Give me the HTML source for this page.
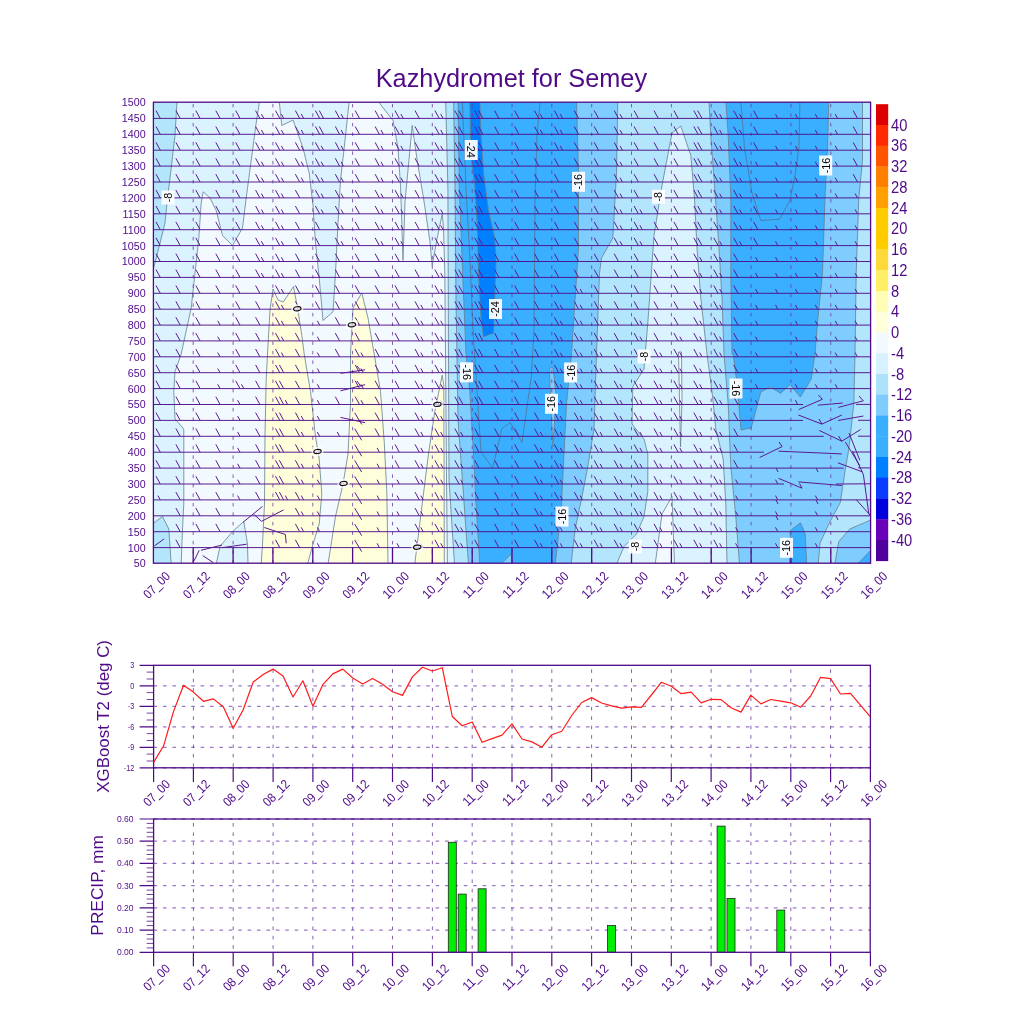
<!DOCTYPE html><html><head><meta charset="utf-8"><style>html,body{margin:0;padding:0;background:#fff;}svg{display:block;will-change:transform}text{font-family:"Liberation Sans",sans-serif;fill:#4F0A87}</style></head><body>
<svg width="1024" height="1024" viewBox="0 0 1024 1024">
<rect width="1024" height="1024" fill="#fff"/>
<text x="511.4" y="87.1" font-size="25.3" text-anchor="middle">Kazhydromet for Semey</text>
<defs><clipPath id="cp"><rect x="153.4" y="102.2" width="717.2" height="461"/></clipPath></defs>
<g clip-path="url(#cp)">
<rect x="0" y="0" width="1024" height="1024" fill="#DBF2FF"/>
<path d="M181.2 564.2L182.5 529L183.8 504L183.8 429L175 419L173.8 391.5L175 371.5L181.2 354L191.2 308L195 273L198.8 238L201.2 203L203.2 191.8L210 198L216.2 210.5L222.5 235.5L232.5 245.5L242.5 228L246.2 198L251.2 160.5L256.2 123L259.5 101.2L279.2 101.2L281.8 125.5L293 120L296.8 130.5L303 148L309.2 173L313 205.5L315.5 243L319.2 278L323 320.5L333 311.8L335.5 273L338 223L340.5 180.5L344.2 148L349.2 101.2L378 101.2L393 120.5L398 148L400.5 185.5L401.8 223L403 260.5L405 202L412.2 125.5L417.2 160.5L423.5 198L429.8 240.5L432.2 265.5L437.2 238L442.2 214.2L443.5 228L444.8 273L445.5 354L446.5 480L447.4 564.2Z" fill="#F3FAFF" stroke="#64808F" stroke-width="0.8"/>
<path d="M655.2 564.2L662 514L672 496.5L674.5 564.2Z" fill="#F3FAFF" stroke="#64808F" stroke-width="0.8"/>
<path d="M678.5 352L681.5 352L682 400L680.5 447L679.5 400Z" fill="#F3FAFF" stroke="#64808F" stroke-width="0.8"/>
<path d="M216.2 564.2L220 546.5L232.5 531.5L243.8 521.5L247.5 544L248 564.2Z" fill="#DBF2FF" stroke="#64808F" stroke-width="0.8"/>
<path d="M261.2 564.2L262.5 544L264.5 504L265 436.5L266.2 379L267.5 354L270 310L273 289L278 300L283.4 302L293.5 286.5L298 310.5L301.8 335.5L304.2 354L310.5 391.5L315.5 436.5L319.2 459L321.8 494L319.2 524L313 544L307.5 564.2Z" fill="#FFFEDB" stroke="#64808F" stroke-width="0.8"/>
<path d="M328 564.2L335.5 516.5L343 484L348 454L350.5 404L350.5 354L353 308L361.8 293L368 318L374.2 354L380.5 391.5L384.2 441.5L386.8 491.5L388 564.2Z" fill="#FFFEDB" stroke="#64808F" stroke-width="0.8"/>
<path d="M414.8 564.2L416 554L422.2 504L428.5 454L434.8 411.5L442.2 375.2L443.8 385L444.1 480L444.3 564.2Z" fill="#FFFEDB" stroke="#64808F" stroke-width="0.8"/>
<path d="M152.4 101.2L177 101.2L175 135.5L171.2 168L167.5 198L165 223L160 243L155 263L152.4 272Z" fill="#B3E5FC" stroke="#64808F" stroke-width="0.8"/>
<path d="M152.4 524L162.5 516.5L168.8 529L171.2 564.2L152.4 564.2Z" fill="#B3E5FC" stroke="#64808F" stroke-width="0.8"/>
<path d="M445.7 101.2L871.6 101.2L871.6 564.2L727 564.2L725.8 504L723.2 459L715.8 429L712 391.5L707 354L700.8 298L697 248L694.5 198L690.8 155.5L680.8 126L672 133L662 185.5L654 235.5L647.8 323L645.2 354L644 369L632.8 386.5L632 424L644 439L647.8 454L647.8 491.5L644 516.5L636.5 534L624 546.5L616.5 564.2L454.5 564.2L449 480L448.5 354L447.9 188Z" fill="#B3E5FC" stroke="#64808F" stroke-width="0.8"/>
<path d="M453.6 101.2L617.8 101.2L616.5 173L612.8 238L601.5 258L599.5 273L596.5 354L594 429L587.8 466.5L581.5 499L575.2 529L571 564.2L468.5 564.2L462.4 480L458 420L456 300L455 188Z" fill="#7FCDFF" stroke="#64808F" stroke-width="0.8"/>
<path d="M709 101.2L862.5 101.2L862.5 160.5L858.8 198L856.2 273L855 354L853.8 404L848.8 449L845 471.2L840.3 502.5L829.4 522.8L820 543.1L818.2 564.2L739.5 564.2L735.8 516.5L730.8 466.5L728.2 404L724 354L722 298L718.2 235.5L714.5 185.5L710.8 135.5Z" fill="#7FCDFF" stroke="#64808F" stroke-width="0.8"/>
<path d="M871.6 519.7L849.7 529L838.8 541.6L834.8 564.2L871.6 564.2Z" fill="#7FCDFF" stroke="#64808F" stroke-width="0.8"/>
<path d="M458 101.2L576.5 101.2L578.5 173L578.5 248L575.2 298L571.5 354L566.5 404L564 454L561.5 504L557.8 541.5L555.2 564.2L479.8 564.2L476 504L473.5 454L469.8 391.5L466 354L462.5 270L459.3 188Z" fill="#3AAEFF" stroke="#64808F" stroke-width="0.8"/>
<path d="M725.8 101.2L828.8 101.2L827.5 148L825 198L822.5 273L817.5 323L815 354L811.2 379L800.3 397.1L790 384.6L780.5 393.4L770.3 386.8L760.8 392L751.2 427.9L741 430L737 384L733.2 354L732 354L730.8 273L730.8 198L728.2 135.5Z" fill="#3AAEFF" stroke="#64808F" stroke-width="0.8"/>
<path d="M789.5 564.2L790.3 530.6L800.5 522.8L805.2 533.8L806.7 564.2Z" fill="#3AAEFF" stroke="#64808F" stroke-width="0.8"/>
<path d="M871.6 549.4L857.5 564.2L871.6 564.2Z" fill="#3AAEFF" stroke="#64808F" stroke-width="0.8"/>
<path d="M549.5 368L553 368L556 395L553 447L550.5 400Z" fill="#7FCDFF" stroke="#64808F" stroke-width="0.8"/>
<path d="M501 564.2L511 554L512.2 564.2Z" fill="#7FCDFF" stroke="#64808F" stroke-width="0.8"/>
<path d="M469.8 101.2L479.8 101.2L481 135.5L483.5 173L488.5 210.5L494.8 238L496 260.5L494.8 298L493.5 333L483.5 336.8L481 318L478.5 273L477.2 223L474.8 185.5L472.2 165.5L470.5 135.5Z" fill="#0080FF" stroke="#64808F" stroke-width="0.8"/>
<path d="M462.4 101.2L466 188L470 260L473 330L481 452L492.7 468L502 428.4L510.3 422.5L522 442.4L531.3 376.8L534 330L535 200L537 135L540.2 101.2" fill="none" stroke="#4F7596" stroke-width="0.8"/>
<path d="M740.8 101.2L744.5 148L752 193L760.8 220.5L779.5 219.2L790 200.5L795 175.5L798.8 148L800 101.2" fill="none" stroke="#4F7596" stroke-width="0.8"/>
<path d="M193.2 102.2V563.2M233.1 102.2V563.2M272.9 102.2V563.2M312.8 102.2V563.2M352.6 102.2V563.2M392.5 102.2V563.2M432.3 102.2V563.2M472.2 102.2V563.2M512 102.2V563.2M551.8 102.2V563.2M591.7 102.2V563.2M631.5 102.2V563.2M671.4 102.2V563.2M711.2 102.2V563.2M751.1 102.2V563.2M790.9 102.2V563.2M830.8 102.2V563.2" stroke="#6A3A9E" stroke-width="1" stroke-dasharray="3.5 6" stroke-dashoffset="7.8" fill="none" opacity="0.8"/>
<path d="M193.2 547.2V563.2M233.1 547.2V563.2M272.9 547.2V563.2M312.8 547.2V563.2M352.6 547.2V563.2M392.5 547.2V563.2M432.3 547.2V563.2M472.2 547.2V563.2M512 547.2V563.2M551.8 547.2V563.2M591.7 547.2V563.2M631.5 547.2V563.2M671.4 547.2V563.2M711.2 547.2V563.2M751.1 547.2V563.2M790.9 547.2V563.2M830.8 547.2V563.2" stroke="#4F0A87" stroke-width="1.3" fill="none"/>
<path d="M153.4 547.6H870.6M153.4 531.7H870.6M153.4 515.8H870.6M153.4 499.9H870.6M153.4 484H784M153.4 468.1H843.6M153.4 452.2H764M153.4 436.3H823.7M153.4 420.4H803M153.4 404.5H803M153.4 388.6H870.6M153.4 372.7H870.6M153.4 356.8H870.6M153.4 340.9H870.6M153.4 325.1H870.6M153.4 309.2H870.6M153.4 293.3H870.6M153.4 277.4H870.6M153.4 261.5H870.6M153.4 245.6H870.6M153.4 229.7H870.6M153.4 213.8H870.6M153.4 197.9H870.6M153.4 182H870.6M153.4 166.1H870.6M153.4 150.2H870.6M153.4 134.3H870.6M153.4 118.4H870.6" stroke="#4E0C86" stroke-width="1" fill="none" opacity="0.93"/><path d="M175.9 539.8L180.2 547.6M275.5 539.8L279.8 547.6M295.4 539.8L299.7 547.6M317.3 543.3L319.7 547.6M354.7 540L361.7 551.6M377.1 543.3L379.4 547.6M397 543.3L399.3 547.6M415 539.8L419.3 547.6M420.8 543.3L423.2 547.6M434.9 539.8L439.2 547.6M440.7 543.3L443.1 547.6M454.8 539.8L459.1 547.6M460.6 543.3L463 547.6M474.7 539.8L479 547.6M494.6 539.8L498.9 547.6M514.6 539.8L518.9 547.6M534.5 539.8L538.8 547.6M540.3 543.3L542.7 547.6M554.4 539.8L558.7 547.6M560.2 543.3L562.6 547.6M574.3 539.8L578.6 547.6M580.2 543.3L582.5 547.6M594.2 539.8L598.5 547.6M600.1 543.3L602.4 547.6M614.2 539.8L618.5 547.6M620 543.3L622.4 547.6M634.1 539.8L638.4 547.6M639.9 543.3L642.3 547.6M654 539.8L658.3 547.6M659.8 543.3L662.2 547.6M673.9 539.8L678.2 547.6M679.8 543.3L682.1 547.6M693.8 539.8L698.1 547.6M699.7 543.3L702 547.6M713.8 539.8L718.1 547.6M719.6 543.3L722 547.6M735.6 543.3L738 547.6M775.5 543.3L777.8 547.6M815.3 543.3L817.7 547.6M175.9 523.9L180.2 531.7M195.8 523.9L200.1 531.7M215.8 523.9L220.1 531.7M295.4 523.9L299.7 531.7M301.3 527.4L303.6 531.7M317.3 527.4L319.7 531.7M354.7 524.1L361.7 535.7M377.1 527.4L379.4 531.7M397 527.4L399.3 531.7M415 523.9L419.3 531.7M420.8 527.4L423.2 531.7M434.9 523.9L439.2 531.7M440.7 527.4L443.1 531.7M454.8 523.9L459.1 531.7M460.6 527.4L463 531.7M474.7 523.9L479 531.7M494.6 523.9L498.9 531.7M514.6 523.9L518.9 531.7M534.5 523.9L538.8 531.7M540.3 527.4L542.7 531.7M554.4 523.9L558.7 531.7M560.2 527.4L562.6 531.7M574.3 523.9L578.6 531.7M580.2 527.4L582.5 531.7M594.2 523.9L598.5 531.7M600.1 527.4L602.4 531.7M614.2 523.9L618.5 531.7M620 527.4L622.4 531.7M634.1 523.9L638.4 531.7M639.9 527.4L642.3 531.7M654 523.9L658.3 531.7M659.8 527.4L662.2 531.7M673.9 523.9L678.2 531.7M679.8 527.4L682.1 531.7M693.8 523.9L698.1 531.7M699.7 527.4L702 531.7M713.8 523.9L718.1 531.7M719.6 527.4L722 531.7M735.6 527.4L738 531.7M775.5 527.4L777.8 531.7M815.3 527.4L817.7 531.7M175.9 508L180.2 515.8M195.8 508L200.1 515.8M215.8 508L220.1 515.8M295.4 508L299.7 515.8M301.3 511.5L303.6 515.8M317.3 511.5L319.7 515.8M354.7 508.2L361.7 519.8M377.1 511.5L379.4 515.8M397 511.5L399.3 515.8M415 508L419.3 515.8M420.8 511.5L423.2 515.8M434.9 508L439.2 515.8M440.7 511.5L443.1 515.8M454.8 508L459.1 515.8M460.6 511.5L463 515.8M474.7 508L479 515.8M494.6 508L498.9 515.8M514.6 508L518.9 515.8M534.5 508L538.8 515.8M540.3 511.5L542.7 515.8M554.4 508L558.7 515.8M560.2 511.5L562.6 515.8M574.3 508L578.6 515.8M580.2 511.5L582.5 515.8M594.2 508L598.5 515.8M600.1 511.5L602.4 515.8M614.2 508L618.5 515.8M620 511.5L622.4 515.8M634.1 508L638.4 515.8M639.9 511.5L642.3 515.8M654 508L658.3 515.8M659.8 511.5L662.2 515.8M673.9 508L678.2 515.8M679.8 511.5L682.1 515.8M693.8 508L698.1 515.8M699.7 511.5L702 515.8M713.8 508L718.1 515.8M719.6 511.5L722 515.8M735.6 511.5L738 515.8M775.5 511.5L777.8 515.8M815.3 511.5L817.7 515.8M157.9 495.6L160.3 499.9M175.9 492.1L180.2 499.9M195.8 492.1L200.1 499.9M215.8 492.1L220.1 499.9M237.6 495.6L240 499.9M255.6 492.1L259.9 499.9M275.5 492.1L279.8 499.9M279.4 492.1L283.7 499.9M285.3 495.6L287.6 499.9M295.4 492.1L299.7 499.9M301.3 495.6L303.6 499.9M317.3 495.6L319.7 499.9M354.7 492.3L361.7 503.9M377.1 495.6L379.4 499.9M397 495.6L399.3 499.9M415 492.1L419.3 499.9M420.8 495.6L423.2 499.9M434.9 492.1L439.2 499.9M440.7 495.6L443.1 499.9M454.8 492.1L459.1 499.9M460.6 495.6L463 499.9M474.7 492.1L479 499.9M494.6 492.1L498.9 499.9M514.6 492.1L518.9 499.9M534.5 492.1L538.8 499.9M540.3 495.6L542.7 499.9M554.4 492.1L558.7 499.9M560.2 495.6L562.6 499.9M574.3 492.1L578.6 499.9M580.2 495.6L582.5 499.9M594.2 492.1L598.5 499.9M600.1 495.6L602.4 499.9M614.2 492.1L618.5 499.9M620 495.6L622.4 499.9M634.1 492.1L638.4 499.9M639.9 495.6L642.3 499.9M654 492.1L658.3 499.9M659.8 495.6L662.2 499.9M673.9 492.1L678.2 499.9M679.8 495.6L682.1 499.9M693.8 492.1L698.1 499.9M699.7 495.6L702 499.9M713.8 492.1L718.1 499.9M719.6 495.6L722 499.9M735.6 495.6L738 499.9M775.5 495.6L777.8 499.9M815.3 495.6L817.7 499.9M156 476.2L160.3 484M175.9 476.2L180.2 484M195.8 476.2L200.1 484M215.8 476.2L220.1 484M237.6 479.7L240 484M255.6 476.2L259.9 484M275.5 476.2L279.8 484M279.4 476.2L283.7 484M295.4 476.2L299.7 484M301.3 479.7L303.6 484M317.3 479.7L319.7 484M354.7 476.4L361.7 488M377.1 479.7L379.4 484M397 479.7L399.3 484M415 476.2L419.3 484M420.8 479.7L423.2 484M434.9 476.2L439.2 484M440.7 479.7L443.1 484M454.8 476.2L459.1 484M460.6 479.7L463 484M474.7 476.2L479 484M494.6 476.2L498.9 484M514.6 476.2L518.9 484M534.5 476.2L538.8 484M540.3 479.7L542.7 484M554.4 476.2L558.7 484M560.2 479.7L562.6 484M574.3 476.2L578.6 484M580.2 479.7L582.5 484M594.2 476.2L598.5 484M600.1 479.7L602.4 484M614.2 476.2L618.5 484M620 479.7L622.4 484M634.1 476.2L638.4 484M639.9 479.7L642.3 484M654 476.2L658.3 484M659.8 479.7L662.2 484M673.9 476.2L678.2 484M679.8 479.7L682.1 484M693.8 476.2L698.1 484M699.7 479.7L702 484M713.8 476.2L718.1 484M719.6 479.7L722 484M735.6 479.7L738 484M775.5 479.7L777.8 484M156 460.3L160.3 468.1M175.9 460.3L180.2 468.1M195.8 460.3L200.1 468.1M215.8 460.3L220.1 468.1M237.6 463.8L240 468.1M255.6 460.3L259.9 468.1M275.5 460.3L279.8 468.1M279.4 460.3L283.7 468.1M295.4 460.3L299.7 468.1M301.3 463.8L303.6 468.1M317.3 463.8L319.7 468.1M354.7 460.5L361.7 472.1M377.1 463.8L379.4 468.1M395 460.3L399.3 468.1M415 460.3L419.3 468.1M420.8 463.8L423.2 468.1M434.9 460.3L439.2 468.1M440.7 463.8L443.1 468.1M454.8 460.3L459.1 468.1M460.6 463.8L463 468.1M474.7 460.3L479 468.1M494.6 460.3L498.9 468.1M514.6 460.3L518.9 468.1M534.5 460.3L538.8 468.1M540.3 463.8L542.7 468.1M554.4 460.3L558.7 468.1M560.2 463.8L562.6 468.1M574.3 460.3L578.6 468.1M580.2 463.8L582.5 468.1M594.2 460.3L598.5 468.1M600.1 463.8L602.4 468.1M614.2 460.3L618.5 468.1M620 463.8L622.4 468.1M634.1 460.3L638.4 468.1M639.9 463.8L642.3 468.1M654 460.3L658.3 468.1M659.8 463.8L662.2 468.1M673.9 460.3L678.2 468.1M679.8 463.8L682.1 468.1M693.8 460.3L698.1 468.1M699.7 463.8L702 468.1M713.8 460.3L718.1 468.1M719.6 463.8L722 468.1M733.7 460.3L738 468.1M156 444.4L160.3 452.2M175.9 444.4L180.2 452.2M195.8 444.4L200.1 452.2M215.8 444.4L220.1 452.2M237.6 447.9L240 452.2M255.6 444.4L259.9 452.2M275.5 444.4L279.8 452.2M279.4 444.4L283.7 452.2M295.4 444.4L299.7 452.2M301.3 447.9L303.6 452.2M317.3 447.9L319.7 452.2M354.7 444.6L361.7 456.2M377.1 447.9L379.4 452.2M395 444.4L399.3 452.2M415 444.4L419.3 452.2M420.8 447.9L423.2 452.2M434.9 444.4L439.2 452.2M440.7 447.9L443.1 452.2M454.8 444.4L459.1 452.2M460.6 447.9L463 452.2M474.7 444.4L479 452.2M494.6 444.4L498.9 452.2M514.6 444.4L518.9 452.2M534.5 444.4L538.8 452.2M540.3 447.9L542.7 452.2M554.4 444.4L558.7 452.2M560.2 447.9L562.6 452.2M574.3 444.4L578.6 452.2M580.2 447.9L582.5 452.2M594.2 444.4L598.5 452.2M600.1 447.9L602.4 452.2M614.2 444.4L618.5 452.2M620 447.9L622.4 452.2M634.1 444.4L638.4 452.2M639.9 447.9L642.3 452.2M654 444.4L658.3 452.2M659.8 447.9L662.2 452.2M673.9 444.4L678.2 452.2M679.8 447.9L682.1 452.2M693.8 444.4L698.1 452.2M699.7 447.9L702 452.2M713.8 444.4L718.1 452.2M719.6 447.9L722 452.2M733.7 444.4L738 452.2M156 428.5L160.3 436.3M175.9 428.5L180.2 436.3M195.8 428.5L200.1 436.3M215.8 428.5L220.1 436.3M237.6 432L240 436.3M255.6 428.5L259.9 436.3M275.5 428.5L279.8 436.3M279.4 428.5L283.7 436.3M295.4 428.5L299.7 436.3M301.3 432L303.6 436.3M317.3 432L319.7 436.3M337.2 432L339.6 436.3M354.7 428.7L361.7 440.3M375.1 428.5L379.4 436.3M395 428.5L399.3 436.3M415 428.5L419.3 436.3M420.8 432L423.2 436.3M434.9 428.5L439.2 436.3M440.7 432L443.1 436.3M454.8 428.5L459.1 436.3M460.6 432L463 436.3M474.7 428.5L479 436.3M494.6 428.5L498.9 436.3M514.6 428.5L518.9 436.3M534.5 428.5L538.8 436.3M540.3 432L542.7 436.3M554.4 428.5L558.7 436.3M560.2 432L562.6 436.3M574.3 428.5L578.6 436.3M580.2 432L582.5 436.3M594.2 428.5L598.5 436.3M600.1 432L602.4 436.3M614.2 428.5L618.5 436.3M620 432L622.4 436.3M634.1 428.5L638.4 436.3M639.9 432L642.3 436.3M654 428.5L658.3 436.3M659.8 432L662.2 436.3M673.9 428.5L678.2 436.3M679.8 432L682.1 436.3M693.8 428.5L698.1 436.3M699.7 432L702 436.3M713.8 428.5L718.1 436.3M719.6 432L722 436.3M733.7 428.5L738 436.3M156 412.6L160.3 420.4M175.9 412.6L180.2 420.4M195.8 412.6L200.1 420.4M215.8 412.6L220.1 420.4M237.6 416.1L240 420.4M255.6 412.6L259.9 420.4M275.5 412.6L279.8 420.4M279.4 412.6L283.7 420.4M295.4 412.6L299.7 420.4M301.3 416.1L303.6 420.4M317.3 416.1L319.7 420.4M354.7 412.8L361.7 424.4M375.1 412.6L379.4 420.4M395 412.6L399.3 420.4M415 412.6L419.3 420.4M420.8 416.1L423.2 420.4M434.9 412.6L439.2 420.4M440.7 416.1L443.1 420.4M454.8 412.6L459.1 420.4M460.6 416.1L463 420.4M474.7 412.6L479 420.4M494.6 412.6L498.9 420.4M514.6 412.6L518.9 420.4M534.5 412.6L538.8 420.4M554.4 412.6L558.7 420.4M560.2 416.1L562.6 420.4M574.3 412.6L578.6 420.4M580.2 416.1L582.5 420.4M594.2 412.6L598.5 420.4M600.1 416.1L602.4 420.4M614.2 412.6L618.5 420.4M620 416.1L622.4 420.4M634.1 412.6L638.4 420.4M639.9 416.1L642.3 420.4M654 412.6L658.3 420.4M659.8 416.1L662.2 420.4M673.9 412.6L678.2 420.4M679.8 416.1L682.1 420.4M693.8 412.6L698.1 420.4M699.7 416.1L702 420.4M713.8 412.6L718.1 420.4M719.6 416.1L722 420.4M733.7 412.6L738 420.4M156 396.7L160.3 404.5M175.9 396.7L180.2 404.5M195.8 396.7L200.1 404.5M215.8 396.7L220.1 404.5M237.6 400.2L240 404.5M255.6 396.7L259.9 404.5M275.5 396.7L279.8 404.5M279.4 396.7L283.7 404.5M285.3 400.2L287.6 404.5M295.4 396.7L299.7 404.5M317.3 400.2L319.7 404.5M335.3 396.7L339.6 404.5M355.2 396.7L359.5 404.5M361 400.2L363.4 404.5M375.1 396.7L379.4 404.5M395 396.7L399.3 404.5M415 396.7L419.3 404.5M420.8 400.2L423.2 404.5M434.9 396.7L439.2 404.5M440.7 400.2L443.1 404.5M454.8 396.7L459.1 404.5M458.7 396.7L463 404.5M474.7 396.7L479 404.5M478.6 396.7L482.9 404.5M494.6 396.7L498.9 404.5M514.6 396.7L518.9 404.5M534.5 396.7L538.8 404.5M554.4 396.7L558.7 404.5M560.2 400.2L562.6 404.5M574.3 396.7L578.6 404.5M580.2 400.2L582.5 404.5M594.2 396.7L598.5 404.5M600.1 400.2L602.4 404.5M614.2 396.7L618.5 404.5M620 400.2L622.4 404.5M634.1 396.7L638.4 404.5M639.9 400.2L642.3 404.5M654 396.7L658.3 404.5M659.8 400.2L662.2 404.5M673.9 396.7L678.2 404.5M679.8 400.2L682.1 404.5M693.8 396.7L698.1 404.5M699.7 400.2L702 404.5M713.8 396.7L718.1 404.5M719.6 400.2L722 404.5M733.7 396.7L738 404.5M755.5 400.2L757.9 404.5M795.4 400.2L797.7 404.5M156 380.8L160.3 388.6M175.9 380.8L180.2 388.6M195.8 380.8L200.1 388.6M217.7 384.3L220.1 388.6M235.7 380.8L240 388.6M241.5 384.3L243.9 388.6M255.6 380.8L259.9 388.6M275.5 380.8L279.8 388.6M279.4 380.8L283.7 388.6M295.4 380.8L299.7 388.6M317.3 384.3L319.7 388.6M355.2 380.8L359.5 388.6M361 384.3L363.4 388.6M375.1 380.8L379.4 388.6M395 380.8L399.3 388.6M415 380.8L419.3 388.6M420.8 384.3L423.2 388.6M434.9 380.8L439.2 388.6M440.7 384.3L443.1 388.6M454.8 380.8L459.1 388.6M458.7 380.8L463 388.6M474.7 380.8L479 388.6M478.6 380.8L482.9 388.6M494.6 380.8L498.9 388.6M514.6 380.8L518.9 388.6M534.5 380.8L538.8 388.6M554.4 380.8L558.7 388.6M560.2 384.3L562.6 388.6M574.3 380.8L578.6 388.6M580.2 384.3L582.5 388.6M594.2 380.8L598.5 388.6M600.1 384.3L602.4 388.6M614.2 380.8L618.5 388.6M620 384.3L622.4 388.6M634.1 380.8L638.4 388.6M639.9 384.3L642.3 388.6M654 380.8L658.3 388.6M659.8 384.3L662.2 388.6M673.9 380.8L678.2 388.6M679.8 384.3L682.1 388.6M693.8 380.8L698.1 388.6M699.7 384.3L702 388.6M713.8 380.8L718.1 388.6M719.6 384.3L722 388.6M733.7 380.8L738 388.6M755.5 384.3L757.9 388.6M795.4 384.3L797.7 388.6M815.3 384.3L817.7 388.6M835.2 384.3L837.6 388.6M156 364.9L160.3 372.7M175.9 364.9L180.2 372.7M195.8 364.9L200.1 372.7M217.7 368.5L220.1 372.7M235.7 364.9L240 372.7M255.6 364.9L259.9 372.7M275.5 364.9L279.8 372.7M279.4 364.9L283.7 372.7M295.4 364.9L299.7 372.7M317.3 368.5L319.7 372.7M355.2 364.9L359.5 372.7M361 368.5L363.4 372.7M375.1 364.9L379.4 372.7M395 364.9L399.3 372.7M415 364.9L419.3 372.7M420.8 368.5L423.2 372.7M434.9 364.9L439.2 372.7M440.7 368.5L443.1 372.7M454.8 364.9L459.1 372.7M458.7 364.9L463 372.7M474.7 364.9L479 372.7M478.6 364.9L482.9 372.7M494.6 364.9L498.9 372.7M514.6 364.9L518.9 372.7M534.5 364.9L538.8 372.7M554.4 364.9L558.7 372.7M560.2 368.5L562.6 372.7M574.3 364.9L578.6 372.7M580.2 368.5L582.5 372.7M594.2 364.9L598.5 372.7M600.1 368.5L602.4 372.7M614.2 364.9L618.5 372.7M620 368.5L622.4 372.7M634.1 364.9L638.4 372.7M639.9 368.5L642.3 372.7M654 364.9L658.3 372.7M659.8 368.5L662.2 372.7M673.9 364.9L678.2 372.7M679.8 368.5L682.1 372.7M693.8 364.9L698.1 372.7M699.7 368.5L702 372.7M713.8 364.9L718.1 372.7M719.6 368.5L722 372.7M733.7 364.9L738 372.7M755.5 368.5L757.9 372.7M795.4 368.5L797.7 372.7M815.3 368.5L817.7 372.7M835.2 368.5L837.6 372.7M156 349L160.3 356.8M175.9 349L180.2 356.8M195.8 349L200.1 356.8M217.7 352.6L220.1 356.8M235.7 349L240 356.8M255.6 349L259.9 356.8M275.5 349L279.8 356.8M281.4 352.6L283.7 356.8M295.4 349L299.7 356.8M317.3 352.6L319.7 356.8M335.3 349L339.6 356.8M355.2 349L359.5 356.8M361 352.6L363.4 356.8M375.1 349L379.4 356.8M395 349L399.3 356.8M415 349L419.3 356.8M420.8 352.6L423.2 356.8M434.9 349L439.2 356.8M440.7 352.6L443.1 356.8M454.8 349L459.1 356.8M458.7 349L463 356.8M474.7 349L479 356.8M478.6 349L482.9 356.8M494.6 349L498.9 356.8M514.6 349L518.9 356.8M534.5 349L538.8 356.8M554.4 349L558.7 356.8M560.2 352.6L562.6 356.8M574.3 349L578.6 356.8M580.2 352.6L582.5 356.8M594.2 349L598.5 356.8M600.1 352.6L602.4 356.8M614.2 349L618.5 356.8M634.1 349L638.4 356.8M639.9 352.6L642.3 356.8M654 349L658.3 356.8M659.8 352.6L662.2 356.8M673.9 349L678.2 356.8M679.8 352.6L682.1 356.8M693.8 349L698.1 356.8M699.7 352.6L702 356.8M713.8 349L718.1 356.8M719.6 352.6L722 356.8M733.7 349L738 356.8M755.5 352.6L757.9 356.8M795.4 352.6L797.7 356.8M815.3 352.6L817.7 356.8M835.2 352.6L837.6 356.8M855.1 352.6L857.5 356.8M156 333.1L160.3 340.9M175.9 333.1L180.2 340.9M195.8 333.1L200.1 340.9M217.7 336.7L220.1 340.9M235.7 333.1L240 340.9M255.6 333.1L259.9 340.9M275.5 333.1L279.8 340.9M281.4 336.7L283.7 340.9M295.4 333.1L299.7 340.9M317.3 336.7L319.7 340.9M335.3 333.1L339.6 340.9M355.2 333.1L359.5 340.9M375.1 333.1L379.4 340.9M395 333.1L399.3 340.9M415 333.1L419.3 340.9M420.8 336.7L423.2 340.9M434.9 333.1L439.2 340.9M440.7 336.7L443.1 340.9M454.8 333.1L459.1 340.9M458.7 333.1L463 340.9M474.7 333.1L479 340.9M478.6 333.1L482.9 340.9M494.6 333.1L498.9 340.9M514.6 333.1L518.9 340.9M534.5 333.1L538.8 340.9M554.4 333.1L558.7 340.9M560.2 336.7L562.6 340.9M574.3 333.1L578.6 340.9M580.2 336.7L582.5 340.9M594.2 333.1L598.5 340.9M600.1 336.7L602.4 340.9M614.2 333.1L618.5 340.9M634.1 333.1L638.4 340.9M639.9 336.7L642.3 340.9M654 333.1L658.3 340.9M673.9 333.1L678.2 340.9M679.8 336.7L682.1 340.9M693.8 333.1L698.1 340.9M699.7 336.7L702 340.9M713.8 333.1L718.1 340.9M719.6 336.7L722 340.9M733.7 333.1L738 340.9M755.5 336.7L757.9 340.9M795.4 336.7L797.7 340.9M815.3 336.7L817.7 340.9M835.2 336.7L837.6 340.9M855.1 336.7L857.5 340.9M156 317.3L160.3 325.1M175.9 317.3L180.2 325.1M195.8 317.3L200.1 325.1M217.7 320.8L220.1 325.1M235.7 317.3L240 325.1M255.6 317.3L259.9 325.1M275.5 317.3L279.8 325.1M281.4 320.8L283.7 325.1M295.4 317.3L299.7 325.1M317.3 320.8L319.7 325.1M335.3 317.3L339.6 325.1M355.2 317.3L359.5 325.1M375.1 317.3L379.4 325.1M395 317.3L399.3 325.1M415 317.3L419.3 325.1M420.8 320.8L423.2 325.1M434.9 317.3L439.2 325.1M440.7 320.8L443.1 325.1M454.8 317.3L459.1 325.1M458.7 317.3L463 325.1M474.7 317.3L479 325.1M478.6 317.3L482.9 325.1M494.6 317.3L498.9 325.1M514.6 317.3L518.9 325.1M534.5 317.3L538.8 325.1M554.4 317.3L558.7 325.1M560.2 320.8L562.6 325.1M574.3 317.3L578.6 325.1M580.2 320.8L582.5 325.1M594.2 317.3L598.5 325.1M600.1 320.8L602.4 325.1M614.2 317.3L618.5 325.1M634.1 317.3L638.4 325.1M639.9 320.8L642.3 325.1M654 317.3L658.3 325.1M673.9 317.3L678.2 325.1M693.8 317.3L698.1 325.1M699.7 320.8L702 325.1M713.8 317.3L718.1 325.1M719.6 320.8L722 325.1M733.7 317.3L738 325.1M755.5 320.8L757.9 325.1M795.4 320.8L797.7 325.1M815.3 320.8L817.7 325.1M835.2 320.8L837.6 325.1M855.1 320.8L857.5 325.1M156 301.4L160.3 309.2M175.9 301.4L180.2 309.2M195.8 301.4L200.1 309.2M217.7 304.9L220.1 309.2M235.7 301.4L240 309.2M255.6 301.4L259.9 309.2M275.5 301.4L279.8 309.2M281.4 304.9L283.7 309.2M295.4 301.4L299.7 309.2M315.4 301.4L319.7 309.2M335.3 301.4L339.6 309.2M355.2 301.4L359.5 309.2M375.1 301.4L379.4 309.2M395 301.4L399.3 309.2M415 301.4L419.3 309.2M420.8 304.9L423.2 309.2M434.9 301.4L439.2 309.2M440.7 304.9L443.1 309.2M454.8 301.4L459.1 309.2M458.7 301.4L463 309.2M474.7 301.4L479 309.2M478.6 301.4L482.9 309.2M494.6 301.4L498.9 309.2M514.6 301.4L518.9 309.2M534.5 301.4L538.8 309.2M554.4 301.4L558.7 309.2M560.2 304.9L562.6 309.2M574.3 301.4L578.6 309.2M580.2 304.9L582.5 309.2M594.2 301.4L598.5 309.2M600.1 304.9L602.4 309.2M614.2 301.4L618.5 309.2M634.1 301.4L638.4 309.2M654 301.4L658.3 309.2M673.9 301.4L678.2 309.2M693.8 301.4L698.1 309.2M699.7 304.9L702 309.2M713.8 301.4L718.1 309.2M719.6 304.9L722 309.2M733.7 301.4L738 309.2M755.5 304.9L757.9 309.2M775.5 304.9L777.8 309.2M795.4 304.9L797.7 309.2M815.3 304.9L817.7 309.2M835.2 304.9L837.6 309.2M855.1 304.9L857.5 309.2M156 285.5L160.3 293.3M175.9 285.5L180.2 293.3M195.8 285.5L200.1 293.3M215.8 285.5L220.1 293.3M235.7 285.5L240 293.3M255.6 285.5L259.9 293.3M275.5 285.5L279.8 293.3M281.4 289L283.7 293.3M295.4 285.5L299.7 293.3M315.4 285.5L319.7 293.3M335.3 285.5L339.6 293.3M355.2 285.5L359.5 293.3M375.1 285.5L379.4 293.3M395 285.5L399.3 293.3M415 285.5L419.3 293.3M434.9 285.5L439.2 293.3M440.7 289L443.1 293.3M454.8 285.5L459.1 293.3M458.7 285.5L463 293.3M474.7 285.5L479 293.3M478.6 285.5L482.9 293.3M494.6 285.5L498.9 293.3M514.6 285.5L518.9 293.3M534.5 285.5L538.8 293.3M554.4 285.5L558.7 293.3M574.3 285.5L578.6 293.3M580.2 289L582.5 293.3M594.2 285.5L598.5 293.3M614.2 285.5L618.5 293.3M634.1 285.5L638.4 293.3M654 285.5L658.3 293.3M673.9 285.5L678.2 293.3M693.8 285.5L698.1 293.3M699.7 289L702 293.3M713.8 285.5L718.1 293.3M719.6 289L722 293.3M733.7 285.5L738 293.3M755.5 289L757.9 293.3M775.5 289L777.8 293.3M795.4 289L797.7 293.3M815.3 289L817.7 293.3M835.2 289L837.6 293.3M855.1 289L857.5 293.3M156 269.6L160.3 277.4M175.9 269.6L180.2 277.4M195.8 269.6L200.1 277.4M215.8 269.6L220.1 277.4M235.7 269.6L240 277.4M255.6 269.6L259.9 277.4M261.4 273.1L263.8 277.4M275.5 269.6L279.8 277.4M281.4 273.1L283.7 277.4M295.4 269.6L299.7 277.4M315.4 269.6L319.7 277.4M335.3 269.6L339.6 277.4M355.2 269.6L359.5 277.4M375.1 269.6L379.4 277.4M395 269.6L399.3 277.4M415 269.6L419.3 277.4M434.9 269.6L439.2 277.4M440.7 273.1L443.1 277.4M454.8 269.6L459.1 277.4M458.7 269.6L463 277.4M474.7 269.6L479 277.4M478.6 269.6L482.9 277.4M494.6 269.6L498.9 277.4M514.6 269.6L518.9 277.4M534.5 269.6L538.8 277.4M554.4 269.6L558.7 277.4M574.3 269.6L578.6 277.4M594.2 269.6L598.5 277.4M614.2 269.6L618.5 277.4M634.1 269.6L638.4 277.4M654 269.6L658.3 277.4M673.9 269.6L678.2 277.4M693.8 269.6L698.1 277.4M699.7 273.1L702 277.4M713.8 269.6L718.1 277.4M719.6 273.1L722 277.4M733.7 269.6L738 277.4M755.5 273.1L757.9 277.4M775.5 273.1L777.8 277.4M795.4 273.1L797.7 277.4M815.3 273.1L817.7 277.4M835.2 273.1L837.6 277.4M855.1 273.1L857.5 277.4M156 253.7L160.3 261.5M175.9 253.7L180.2 261.5M195.8 253.7L200.1 261.5M215.8 253.7L220.1 261.5M235.7 253.7L240 261.5M255.6 253.7L259.9 261.5M261.4 257.2L263.8 261.5M275.5 253.7L279.8 261.5M281.4 257.2L283.7 261.5M295.4 253.7L299.7 261.5M315.4 253.7L319.7 261.5M335.3 253.7L339.6 261.5M355.2 253.7L359.5 261.5M375.1 253.7L379.4 261.5M395 253.7L399.3 261.5M415 253.7L419.3 261.5M434.9 253.7L439.2 261.5M440.7 257.2L443.1 261.5M454.8 253.7L459.1 261.5M458.7 253.7L463 261.5M474.7 253.7L479 261.5M478.6 253.7L482.9 261.5M494.6 253.7L498.9 261.5M514.6 253.7L518.9 261.5M534.5 253.7L538.8 261.5M554.4 253.7L558.7 261.5M574.3 253.7L578.6 261.5M594.2 253.7L598.5 261.5M614.2 253.7L618.5 261.5M634.1 253.7L638.4 261.5M654 253.7L658.3 261.5M673.9 253.7L678.2 261.5M693.8 253.7L698.1 261.5M699.7 257.2L702 261.5M713.8 253.7L718.1 261.5M719.6 257.2L722 261.5M733.7 253.7L738 261.5M755.5 257.2L757.9 261.5M775.5 257.2L777.8 261.5M795.4 257.2L797.7 261.5M815.3 257.2L817.7 261.5M835.2 257.2L837.6 261.5M855.1 257.2L857.5 261.5M156 237.8L160.3 245.6M175.9 237.8L180.2 245.6M195.8 237.8L200.1 245.6M215.8 237.8L220.1 245.6M235.7 237.8L240 245.6M255.6 237.8L259.9 245.6M261.4 241.3L263.8 245.6M275.5 237.8L279.8 245.6M281.4 241.3L283.7 245.6M295.4 237.8L299.7 245.6M315.4 237.8L319.7 245.6M335.3 237.8L339.6 245.6M341.1 241.3L343.5 245.6M355.2 237.8L359.5 245.6M375.1 237.8L379.4 245.6M381 241.3L383.3 245.6M395 237.8L399.3 245.6M400.9 241.3L403.2 245.6M415 237.8L419.3 245.6M434.9 237.8L439.2 245.6M440.7 241.3L443.1 245.6M454.8 237.8L459.1 245.6M458.7 237.8L463 245.6M474.7 237.8L479 245.6M478.6 237.8L482.9 245.6M494.6 237.8L498.9 245.6M514.6 237.8L518.9 245.6M534.5 237.8L538.8 245.6M554.4 237.8L558.7 245.6M574.3 237.8L578.6 245.6M594.2 237.8L598.5 245.6M614.2 237.8L618.5 245.6M620 241.3L622.4 245.6M634.1 237.8L638.4 245.6M639.9 241.3L642.3 245.6M654 237.8L658.3 245.6M673.9 237.8L678.2 245.6M693.8 237.8L698.1 245.6M697.7 237.8L702 245.6M713.8 237.8L718.1 245.6M719.6 241.3L722 245.6M733.7 237.8L738 245.6M739.5 241.3L741.9 245.6M753.6 237.8L757.9 245.6M775.5 241.3L777.8 245.6M795.4 241.3L797.7 245.6M815.3 241.3L817.7 245.6M835.2 241.3L837.6 245.6M855.1 241.3L857.5 245.6M156 221.9L160.3 229.7M175.9 221.9L180.2 229.7M195.8 221.9L200.1 229.7M215.8 221.9L220.1 229.7M235.7 221.9L240 229.7M255.6 221.9L259.9 229.7M261.4 225.4L263.8 229.7M275.5 221.9L279.8 229.7M281.4 225.4L283.7 229.7M295.4 221.9L299.7 229.7M315.4 221.9L319.7 229.7M335.3 221.9L339.6 229.7M341.1 225.4L343.5 229.7M355.2 221.9L359.5 229.7M375.1 221.9L379.4 229.7M381 225.4L383.3 229.7M395 221.9L399.3 229.7M400.9 225.4L403.2 229.7M415 221.9L419.3 229.7M434.9 221.9L439.2 229.7M440.7 225.4L443.1 229.7M454.8 221.9L459.1 229.7M458.7 221.9L463 229.7M474.7 221.9L479 229.7M478.6 221.9L482.9 229.7M494.6 221.9L498.9 229.7M514.6 221.9L518.9 229.7M534.5 221.9L538.8 229.7M554.4 221.9L558.7 229.7M574.3 221.9L578.6 229.7M594.2 221.9L598.5 229.7M614.2 221.9L618.5 229.7M620 225.4L622.4 229.7M634.1 221.9L638.4 229.7M639.9 225.4L642.3 229.7M654 221.9L658.3 229.7M673.9 221.9L678.2 229.7M693.8 221.9L698.1 229.7M697.7 221.9L702 229.7M713.8 221.9L718.1 229.7M719.6 225.4L722 229.7M733.7 221.9L738 229.7M739.5 225.4L741.9 229.7M753.6 221.9L757.9 229.7M775.5 225.4L777.8 229.7M795.4 225.4L797.7 229.7M815.3 225.4L817.7 229.7M835.2 225.4L837.6 229.7M855.1 225.4L857.5 229.7M156 206L160.3 213.8M175.9 206L180.2 213.8M195.8 206L200.1 213.8M215.8 206L220.1 213.8M235.7 206L240 213.8M255.6 206L259.9 213.8M261.4 209.5L263.8 213.8M275.5 206L279.8 213.8M281.4 209.5L283.7 213.8M295.4 206L299.7 213.8M315.4 206L319.7 213.8M321.2 209.5L323.6 213.8M335.3 206L339.6 213.8M341.1 209.5L343.5 213.8M355.2 206L359.5 213.8M375.1 206L379.4 213.8M381 209.5L383.3 213.8M395 206L399.3 213.8M400.9 209.5L403.2 213.8M415 206L419.3 213.8M434.9 206L439.2 213.8M440.7 209.5L443.1 213.8M454.8 206L459.1 213.8M458.7 206L463 213.8M474.7 206L479 213.8M478.6 206L482.9 213.8M494.6 206L498.9 213.8M514.6 206L518.9 213.8M534.5 206L538.8 213.8M554.4 206L558.7 213.8M574.3 206L578.6 213.8M594.2 206L598.5 213.8M614.2 206L618.5 213.8M620 209.5L622.4 213.8M634.1 206L638.4 213.8M639.9 209.5L642.3 213.8M654 206L658.3 213.8M673.9 206L678.2 213.8M693.8 206L698.1 213.8M697.7 206L702 213.8M713.8 206L718.1 213.8M719.6 209.5L722 213.8M733.7 206L738 213.8M739.5 209.5L741.9 213.8M753.6 206L757.9 213.8M775.5 209.5L777.8 213.8M795.4 209.5L797.7 213.8M815.3 209.5L817.7 213.8M835.2 209.5L837.6 213.8M855.1 209.5L857.5 213.8M156 190.1L160.3 197.9M175.9 190.1L180.2 197.9M195.8 190.1L200.1 197.9M215.8 190.1L220.1 197.9M235.7 190.1L240 197.9M255.6 190.1L259.9 197.9M261.4 193.6L263.8 197.9M275.5 190.1L279.8 197.9M281.4 193.6L283.7 197.9M295.4 190.1L299.7 197.9M315.4 190.1L319.7 197.9M321.2 193.6L323.6 197.9M335.3 190.1L339.6 197.9M341.1 193.6L343.5 197.9M355.2 190.1L359.5 197.9M375.1 190.1L379.4 197.9M381 193.6L383.3 197.9M395 190.1L399.3 197.9M400.9 193.6L403.2 197.9M415 190.1L419.3 197.9M434.9 190.1L439.2 197.9M440.7 193.6L443.1 197.9M454.8 190.1L459.1 197.9M458.7 190.1L463 197.9M474.7 190.1L479 197.9M478.6 190.1L482.9 197.9M494.6 190.1L498.9 197.9M514.6 190.1L518.9 197.9M534.5 190.1L538.8 197.9M554.4 190.1L558.7 197.9M574.3 190.1L578.6 197.9M594.2 190.1L598.5 197.9M614.2 190.1L618.5 197.9M620 193.6L622.4 197.9M634.1 190.1L638.4 197.9M654 190.1L658.3 197.9M673.9 190.1L678.2 197.9M693.8 190.1L698.1 197.9M697.7 190.1L702 197.9M713.8 190.1L718.1 197.9M719.6 193.6L722 197.9M733.7 190.1L738 197.9M739.5 193.6L741.9 197.9M755.5 193.6L757.9 197.9M775.5 193.6L777.8 197.9M795.4 193.6L797.7 197.9M815.3 193.6L817.7 197.9M835.2 193.6L837.6 197.9M855.1 193.6L857.5 197.9M156 174.2L160.3 182M175.9 174.2L180.2 182M195.8 174.2L200.1 182M215.8 174.2L220.1 182M235.7 174.2L240 182M255.6 174.2L259.9 182M261.4 177.7L263.8 182M275.5 174.2L279.8 182M281.4 177.7L283.7 182M295.4 174.2L299.7 182M301.3 177.7L303.6 182M315.4 174.2L319.7 182M321.2 177.7L323.6 182M335.3 174.2L339.6 182M341.1 177.7L343.5 182M355.2 174.2L359.5 182M375.1 174.2L379.4 182M381 177.7L383.3 182M395 174.2L399.3 182M400.9 177.7L403.2 182M415 174.2L419.3 182M434.9 174.2L439.2 182M440.7 177.7L443.1 182M454.8 174.2L459.1 182M458.7 174.2L463 182M474.7 174.2L479 182M478.6 174.2L482.9 182M494.6 174.2L498.9 182M514.6 174.2L518.9 182M534.5 174.2L538.8 182M554.4 174.2L558.7 182M574.3 174.2L578.6 182M594.2 174.2L598.5 182M614.2 174.2L618.5 182M620 177.7L622.4 182M634.1 174.2L638.4 182M654 174.2L658.3 182M673.9 174.2L678.2 182M693.8 174.2L698.1 182M697.7 174.2L702 182M713.8 174.2L718.1 182M719.6 177.7L722 182M733.7 174.2L738 182M739.5 177.7L741.9 182M755.5 177.7L757.9 182M775.5 177.7L777.8 182M795.4 177.7L797.7 182M815.3 177.7L817.7 182M835.2 177.7L837.6 182M853.2 174.2L857.5 182M156 158.3L160.3 166.1M175.9 158.3L180.2 166.1M195.8 158.3L200.1 166.1M215.8 158.3L220.1 166.1M235.7 158.3L240 166.1M255.6 158.3L259.9 166.1M261.4 161.8L263.8 166.1M275.5 158.3L279.8 166.1M281.4 161.8L283.7 166.1M295.4 158.3L299.7 166.1M301.3 161.8L303.6 166.1M315.4 158.3L319.7 166.1M321.2 161.8L323.6 166.1M335.3 158.3L339.6 166.1M341.1 161.8L343.5 166.1M355.2 158.3L359.5 166.1M375.1 158.3L379.4 166.1M381 161.8L383.3 166.1M395 158.3L399.3 166.1M400.9 161.8L403.2 166.1M415 158.3L419.3 166.1M434.9 158.3L439.2 166.1M440.7 161.8L443.1 166.1M454.8 158.3L459.1 166.1M458.7 158.3L463 166.1M474.7 158.3L479 166.1M478.6 158.3L482.9 166.1M494.6 158.3L498.9 166.1M514.6 158.3L518.9 166.1M534.5 158.3L538.8 166.1M554.4 158.3L558.7 166.1M574.3 158.3L578.6 166.1M594.2 158.3L598.5 166.1M614.2 158.3L618.5 166.1M620 161.8L622.4 166.1M634.1 158.3L638.4 166.1M654 158.3L658.3 166.1M673.9 158.3L678.2 166.1M693.8 158.3L698.1 166.1M697.7 158.3L702 166.1M713.8 158.3L718.1 166.1M719.6 161.8L722 166.1M733.7 158.3L738 166.1M739.5 161.8L741.9 166.1M755.5 161.8L757.9 166.1M775.5 161.8L777.8 166.1M795.4 161.8L797.7 166.1M815.3 161.8L817.7 166.1M835.2 161.8L837.6 166.1M853.2 158.3L857.5 166.1M156 142.4L160.3 150.2M175.9 142.4L180.2 150.2M195.8 142.4L200.1 150.2M215.8 142.4L220.1 150.2M235.7 142.4L240 150.2M255.6 142.4L259.9 150.2M261.4 145.9L263.8 150.2M275.5 142.4L279.8 150.2M281.4 145.9L283.7 150.2M295.4 142.4L299.7 150.2M301.3 145.9L303.6 150.2M315.4 142.4L319.7 150.2M321.2 145.9L323.6 150.2M335.3 142.4L339.6 150.2M341.1 145.9L343.5 150.2M355.2 142.4L359.5 150.2M375.1 142.4L379.4 150.2M381 145.9L383.3 150.2M395 142.4L399.3 150.2M400.9 145.9L403.2 150.2M415 142.4L419.3 150.2M434.9 142.4L439.2 150.2M440.7 145.9L443.1 150.2M454.8 142.4L459.1 150.2M458.7 142.4L463 150.2M474.7 142.4L479 150.2M478.6 142.4L482.9 150.2M494.6 142.4L498.9 150.2M514.6 142.4L518.9 150.2M534.5 142.4L538.8 150.2M540.3 145.9L542.7 150.2M554.4 142.4L558.7 150.2M560.2 145.9L562.6 150.2M574.3 142.4L578.6 150.2M594.2 142.4L598.5 150.2M614.2 142.4L618.5 150.2M620 145.9L622.4 150.2M634.1 142.4L638.4 150.2M654 142.4L658.3 150.2M673.9 142.4L678.2 150.2M693.8 142.4L698.1 150.2M697.7 142.4L702 150.2M713.8 142.4L718.1 150.2M719.6 145.9L722 150.2M733.7 142.4L738 150.2M739.5 145.9L741.9 150.2M753.6 142.4L757.9 150.2M775.5 145.9L777.8 150.2M795.4 145.9L797.7 150.2M815.3 145.9L817.7 150.2M835.2 145.9L837.6 150.2M853.2 142.4L857.5 150.2M156 126.5L160.3 134.3M175.9 126.5L180.2 134.3M195.8 126.5L200.1 134.3M215.8 126.5L220.1 134.3M235.7 126.5L240 134.3M255.6 126.5L259.9 134.3M261.4 130L263.8 134.3M275.5 126.5L279.8 134.3M281.4 130L283.7 134.3M295.4 126.5L299.7 134.3M301.3 130L303.6 134.3M315.4 126.5L319.7 134.3M319.3 126.5L323.6 134.3M335.3 126.5L339.6 134.3M341.1 130L343.5 134.3M355.2 126.5L359.5 134.3M375.1 126.5L379.4 134.3M381 130L383.3 134.3M395 126.5L399.3 134.3M400.9 130L403.2 134.3M415 126.5L419.3 134.3M434.9 126.5L439.2 134.3M440.7 130L443.1 134.3M454.8 126.5L459.1 134.3M458.7 126.5L463 134.3M474.7 126.5L479 134.3M478.6 126.5L482.9 134.3M494.6 126.5L498.9 134.3M514.6 126.5L518.9 134.3M534.5 126.5L538.8 134.3M540.3 130L542.7 134.3M554.4 126.5L558.7 134.3M560.2 130L562.6 134.3M574.3 126.5L578.6 134.3M594.2 126.5L598.5 134.3M614.2 126.5L618.5 134.3M620 130L622.4 134.3M634.1 126.5L638.4 134.3M654 126.5L658.3 134.3M673.9 126.5L678.2 134.3M693.8 126.5L698.1 134.3M697.7 126.5L702 134.3M713.8 126.5L718.1 134.3M719.6 130L722 134.3M733.7 126.5L738 134.3M739.5 130L741.9 134.3M753.6 126.5L757.9 134.3M775.5 130L777.8 134.3M795.4 130L797.7 134.3M815.3 130L817.7 134.3M835.2 130L837.6 134.3M853.2 126.5L857.5 134.3M156 110.6L160.3 118.4M175.9 110.6L180.2 118.4M195.8 110.6L200.1 118.4M215.8 110.6L220.1 118.4M235.7 110.6L240 118.4M255.6 110.6L259.9 118.4M261.4 114.1L263.8 118.4M275.5 110.6L279.8 118.4M281.4 114.1L283.7 118.4M295.4 110.6L299.7 118.4M301.3 114.1L303.6 118.4M315.4 110.6L319.7 118.4M319.3 110.6L323.6 118.4M335.3 110.6L339.6 118.4M341.1 114.1L343.5 118.4M355.2 110.6L359.5 118.4M375.1 110.6L379.4 118.4M381 114.1L383.3 118.4M395 110.6L399.3 118.4M400.9 114.1L403.2 118.4M415 110.6L419.3 118.4M434.9 110.6L439.2 118.4M440.7 114.1L443.1 118.4M454.8 110.6L459.1 118.4M458.7 110.6L463 118.4M474.7 110.6L479 118.4M478.6 110.6L482.9 118.4M494.6 110.6L498.9 118.4M514.6 110.6L518.9 118.4M534.5 110.6L538.8 118.4M540.3 114.1L542.7 118.4M554.4 110.6L558.7 118.4M560.2 114.1L562.6 118.4M574.3 110.6L578.6 118.4M594.2 110.6L598.5 118.4M614.2 110.6L618.5 118.4M620 114.1L622.4 118.4M634.1 110.6L638.4 118.4M654 110.6L658.3 118.4M673.9 110.6L678.2 118.4M693.8 110.6L698.1 118.4M697.7 110.6L702 118.4M713.8 110.6L718.1 118.4M719.6 114.1L722 118.4M733.7 110.6L738 118.4M739.5 114.1L741.9 118.4M753.6 110.6L757.9 118.4M775.5 114.1L777.8 118.4M795.4 114.1L797.7 118.4M815.3 114.1L817.7 118.4M835.2 114.1L837.6 118.4M853.2 110.6L857.5 118.4" stroke="#5A1A90" stroke-width="1" fill="none"/><path d="M798.8 409.5L822.3 399.3M817.9 405.2L842.8 403M838.4 407.4L863.3 400.8M856 404.4L870.6 404.4M798.4 415L821.9 424.1L841.8 415M838.1 420.5L863.4 416M858 420.3L870.6 420.3M819.2 430.4L841.8 441.2L860.7 429.5M858 436.2L870.6 436.2M759.6 457.5L782.1 446.6M778.5 451.2L841.8 453.9M845.4 442.1L859.8 465.6M852 452L870.6 452M838.1 462.9L862.5 471.9M858 467.9L870.6 467.9M778.5 478.3L802 488.2M798.4 481.9L841.8 485.5M836 484L870.6 483.8M852.6 451.2L863.4 474.7L868.9 514.4M849 433.1L859.8 460.2M856 499.4L870 515M821.9 424.1L819 419M841.8 441.2L838.5 436M782.1 446.6L779 442M802 488.2L799.5 483.5M822.3 399.3L818.5 395M863.3 400.8L859 396M776 468L778 472M816 468L818 472M776 500L778 504M816 500L818 504M776 516L778 520M836 516L838 520M243.2 522.2L262.5 506.4M253.7 514.3L261.6 521.3L283.6 509.9M264.3 527.5L285.4 534.5L286.2 543.3M194 560.9L199.2 550.3M201 550.3L222 545M202.7 555.6L213.3 562.6M154.4 545.9L164.1 538.9M222 547.7L246.7 544.2M340.5 373.3L365.1 369.8M340.5 390.8L365.1 384.7M340.5 417.4L365.1 422.7M357 366L361 371M357 381L361 386.5" stroke="#5A1A90" stroke-width="1" fill="none"/>
<rect x="161.5" y="190.5" width="13" height="14" fill="#fff" opacity="0.93"/><text transform="translate(171.9 197.5) rotate(-90)" font-size="10.8" text-anchor="middle" style="fill:#000">-8</text><rect x="464.7" y="140" width="13" height="20" fill="#fff" opacity="0.93"/><text transform="translate(467.3 150) rotate(90)" font-size="10.8" text-anchor="middle" style="fill:#000">-24</text><rect x="489" y="299" width="13" height="20" fill="#fff" opacity="0.93"/><text transform="translate(499.4 309) rotate(-90)" font-size="10.8" text-anchor="middle" style="fill:#000">-24</text><rect x="572" y="171.8" width="13" height="20" fill="#fff" opacity="0.93"/><text transform="translate(582.4 181.8) rotate(-90)" font-size="10.8" text-anchor="middle" style="fill:#000">-16</text><rect x="652" y="189.8" width="13" height="14" fill="#fff" opacity="0.93"/><text transform="translate(662.4 196.8) rotate(-90)" font-size="10.8" text-anchor="middle" style="fill:#000">-8</text><rect x="819.2" y="155.5" width="13" height="20" fill="#fff" opacity="0.93"/><text transform="translate(829.6 165.5) rotate(-90)" font-size="10.8" text-anchor="middle" style="fill:#000">-16</text><rect x="460" y="362.3" width="13" height="20" fill="#fff" opacity="0.93"/><text transform="translate(462.6 372.3) rotate(90)" font-size="10.8" text-anchor="middle" style="fill:#000">-16</text><rect x="564.1" y="362.5" width="13" height="20" fill="#fff" opacity="0.93"/><text transform="translate(574.5 372.5) rotate(-90)" font-size="10.8" text-anchor="middle" style="fill:#000">-16</text><rect x="545" y="393.8" width="13" height="20" fill="#fff" opacity="0.93"/><text transform="translate(555.4 403.8) rotate(-90)" font-size="10.8" text-anchor="middle" style="fill:#000">-16</text><rect x="555.5" y="506.5" width="13" height="20" fill="#fff" opacity="0.93"/><text transform="translate(565.9 516.5) rotate(-90)" font-size="10.8" text-anchor="middle" style="fill:#000">-16</text><rect x="637.5" y="349.5" width="13" height="14" fill="#fff" opacity="0.93"/><text transform="translate(647.9 356.5) rotate(-90)" font-size="10.8" text-anchor="middle" style="fill:#000">-8</text><rect x="628.8" y="539.5" width="13" height="14" fill="#fff" opacity="0.93"/><text transform="translate(639.1 546.5) rotate(-90)" font-size="10.8" text-anchor="middle" style="fill:#000">-8</text><rect x="729.5" y="378.5" width="13" height="20" fill="#fff" opacity="0.93"/><text transform="translate(732.1 388.5) rotate(90)" font-size="10.8" text-anchor="middle" style="fill:#000">-16</text><rect x="780" y="537.8" width="13" height="20" fill="#fff" opacity="0.93"/><text transform="translate(790.4 547.8) rotate(-90)" font-size="10.8" text-anchor="middle" style="fill:#000">-16</text><rect x="291.3" y="304.3" width="12" height="9" fill="#fff" opacity="0.7"/><ellipse cx="0" cy="0" rx="3.7" ry="2.05" transform="translate(297.3 308.8) rotate(-6)" fill="none" stroke="#111" stroke-width="1.15"/><rect x="345.9" y="320.3" width="12" height="9" fill="#fff" opacity="0.7"/><ellipse cx="0" cy="0" rx="3.7" ry="2.05" transform="translate(351.9 324.8) rotate(-6)" fill="none" stroke="#111" stroke-width="1.15"/><rect x="311.5" y="447" width="12" height="9" fill="#fff" opacity="0.7"/><ellipse cx="0" cy="0" rx="3.7" ry="2.05" transform="translate(317.5 451.5) rotate(-6)" fill="none" stroke="#111" stroke-width="1.15"/><rect x="337.5" y="479" width="12" height="9" fill="#fff" opacity="0.7"/><ellipse cx="0" cy="0" rx="3.7" ry="2.05" transform="translate(343.5 483.5) rotate(-6)" fill="none" stroke="#111" stroke-width="1.15"/><rect x="431.4" y="399.9" width="12" height="9" fill="#fff" opacity="0.7"/><ellipse cx="0" cy="0" rx="3.7" ry="2.05" transform="translate(437.4 404.4) rotate(-6)" fill="none" stroke="#111" stroke-width="1.15"/><rect x="411.2" y="542.7" width="12" height="9" fill="#fff" opacity="0.7"/><ellipse cx="0" cy="0" rx="3.7" ry="2.05" transform="translate(417.2 547.2) rotate(-6)" fill="none" stroke="#111" stroke-width="1.15"/>
</g>
<rect x="153.4" y="102.2" width="717.2" height="461" fill="none" stroke="#4F0A87" stroke-width="1.3"/>
<text transform="translate(145.6 567.4) scale(1 1.08)" font-size="10.7" text-anchor="end">50</text>
<text transform="translate(145.6 551.5) scale(1 1.08)" font-size="10.7" text-anchor="end">100</text>
<text transform="translate(145.6 535.6) scale(1 1.08)" font-size="10.7" text-anchor="end">150</text>
<text transform="translate(145.6 519.7) scale(1 1.08)" font-size="10.7" text-anchor="end">200</text>
<text transform="translate(145.6 503.8) scale(1 1.08)" font-size="10.7" text-anchor="end">250</text>
<text transform="translate(145.6 487.9) scale(1 1.08)" font-size="10.7" text-anchor="end">300</text>
<text transform="translate(145.6 472) scale(1 1.08)" font-size="10.7" text-anchor="end">350</text>
<text transform="translate(145.6 456.1) scale(1 1.08)" font-size="10.7" text-anchor="end">400</text>
<text transform="translate(145.6 440.2) scale(1 1.08)" font-size="10.7" text-anchor="end">450</text>
<text transform="translate(145.6 424.3) scale(1 1.08)" font-size="10.7" text-anchor="end">500</text>
<text transform="translate(145.6 408.4) scale(1 1.08)" font-size="10.7" text-anchor="end">550</text>
<text transform="translate(145.6 392.5) scale(1 1.08)" font-size="10.7" text-anchor="end">600</text>
<text transform="translate(145.6 376.6) scale(1 1.08)" font-size="10.7" text-anchor="end">650</text>
<text transform="translate(145.6 360.7) scale(1 1.08)" font-size="10.7" text-anchor="end">700</text>
<text transform="translate(145.6 344.8) scale(1 1.08)" font-size="10.7" text-anchor="end">750</text>
<text transform="translate(145.6 329) scale(1 1.08)" font-size="10.7" text-anchor="end">800</text>
<text transform="translate(145.6 313.1) scale(1 1.08)" font-size="10.7" text-anchor="end">850</text>
<text transform="translate(145.6 297.2) scale(1 1.08)" font-size="10.7" text-anchor="end">900</text>
<text transform="translate(145.6 281.3) scale(1 1.08)" font-size="10.7" text-anchor="end">950</text>
<text transform="translate(145.6 265.4) scale(1 1.08)" font-size="10.7" text-anchor="end">1000</text>
<text transform="translate(145.6 249.5) scale(1 1.08)" font-size="10.7" text-anchor="end">1050</text>
<text transform="translate(145.6 233.6) scale(1 1.08)" font-size="10.7" text-anchor="end">1100</text>
<text transform="translate(145.6 217.7) scale(1 1.08)" font-size="10.7" text-anchor="end">1150</text>
<text transform="translate(145.6 201.8) scale(1 1.08)" font-size="10.7" text-anchor="end">1200</text>
<text transform="translate(145.6 185.9) scale(1 1.08)" font-size="10.7" text-anchor="end">1250</text>
<text transform="translate(145.6 170) scale(1 1.08)" font-size="10.7" text-anchor="end">1300</text>
<text transform="translate(145.6 154.1) scale(1 1.08)" font-size="10.7" text-anchor="end">1350</text>
<text transform="translate(145.6 138.2) scale(1 1.08)" font-size="10.7" text-anchor="end">1400</text>
<text transform="translate(145.6 122.3) scale(1 1.08)" font-size="10.7" text-anchor="end">1450</text>
<text transform="translate(145.6 106.4) scale(1 1.08)" font-size="10.7" text-anchor="end">1500</text>
<text transform="translate(171 577.1) rotate(-45) scale(0.93 1.05)" font-size="12.3" text-anchor="end">07_00</text><text transform="translate(210.8 577.1) rotate(-45) scale(0.93 1.05)" font-size="12.3" text-anchor="end">07_12</text><text transform="translate(250.7 577.1) rotate(-45) scale(0.93 1.05)" font-size="12.3" text-anchor="end">08_00</text><text transform="translate(290.5 577.1) rotate(-45) scale(0.93 1.05)" font-size="12.3" text-anchor="end">08_12</text><text transform="translate(330.4 577.1) rotate(-45) scale(0.93 1.05)" font-size="12.3" text-anchor="end">09_00</text><text transform="translate(370.2 577.1) rotate(-45) scale(0.93 1.05)" font-size="12.3" text-anchor="end">09_12</text><text transform="translate(410.1 577.1) rotate(-45) scale(0.93 1.05)" font-size="12.3" text-anchor="end">10_00</text><text transform="translate(449.9 577.1) rotate(-45) scale(0.93 1.05)" font-size="12.3" text-anchor="end">10_12</text><text transform="translate(489.8 577.1) rotate(-45) scale(0.93 1.05)" font-size="12.3" text-anchor="end">11_00</text><text transform="translate(529.6 577.1) rotate(-45) scale(0.93 1.05)" font-size="12.3" text-anchor="end">11_12</text><text transform="translate(569.4 577.1) rotate(-45) scale(0.93 1.05)" font-size="12.3" text-anchor="end">12_00</text><text transform="translate(609.3 577.1) rotate(-45) scale(0.93 1.05)" font-size="12.3" text-anchor="end">12_12</text><text transform="translate(649.1 577.1) rotate(-45) scale(0.93 1.05)" font-size="12.3" text-anchor="end">13_00</text><text transform="translate(689 577.1) rotate(-45) scale(0.93 1.05)" font-size="12.3" text-anchor="end">13_12</text><text transform="translate(728.8 577.1) rotate(-45) scale(0.93 1.05)" font-size="12.3" text-anchor="end">14_00</text><text transform="translate(768.7 577.1) rotate(-45) scale(0.93 1.05)" font-size="12.3" text-anchor="end">14_12</text><text transform="translate(808.5 577.1) rotate(-45) scale(0.93 1.05)" font-size="12.3" text-anchor="end">15_00</text><text transform="translate(848.4 577.1) rotate(-45) scale(0.93 1.05)" font-size="12.3" text-anchor="end">15_12</text><text transform="translate(888.2 577.1) rotate(-45) scale(0.93 1.05)" font-size="12.3" text-anchor="end">16_00</text>
<rect x="876" y="104.2" width="12.2" height="21.1" fill="#DD0000"/>
<rect x="876" y="125" width="12.2" height="21.1" fill="#FF2A00"/>
<rect x="876" y="145.7" width="12.2" height="21.1" fill="#FF5500"/>
<rect x="876" y="166.5" width="12.2" height="21.1" fill="#FF7F00"/>
<rect x="876" y="187.2" width="12.2" height="21.1" fill="#FFA000"/>
<rect x="876" y="208" width="12.2" height="21.1" fill="#FFCC00"/>
<rect x="876" y="228.7" width="12.2" height="21.1" fill="#FFCC00"/>
<rect x="876" y="249.5" width="12.2" height="21.1" fill="#FFD83A"/>
<rect x="876" y="270.2" width="12.2" height="21.1" fill="#FFEE66"/>
<rect x="876" y="291" width="12.2" height="21.1" fill="#FFFCB5"/>
<rect x="876" y="311.7" width="12.2" height="21.1" fill="#FFFEDB"/>
<rect x="876" y="332.5" width="12.2" height="21.1" fill="#F3FAFF"/>
<rect x="876" y="353.2" width="12.2" height="21.1" fill="#D8F1FF"/>
<rect x="876" y="374" width="12.2" height="21.1" fill="#AEE2FA"/>
<rect x="876" y="394.7" width="12.2" height="21.1" fill="#7FCDFF"/>
<rect x="876" y="415.5" width="12.2" height="21.1" fill="#3AAEFF"/>
<rect x="876" y="436.2" width="12.2" height="21.1" fill="#3AAEFF"/>
<rect x="876" y="457" width="12.2" height="21.1" fill="#0080FF"/>
<rect x="876" y="477.7" width="12.2" height="21.1" fill="#0A3CFF"/>
<rect x="876" y="498.5" width="12.2" height="21.1" fill="#0000DD"/>
<rect x="876" y="519.2" width="12.2" height="21.1" fill="#6A00B8"/>
<rect x="876" y="540" width="12.2" height="21.1" fill="#50009C"/>
<text transform="translate(891 130.7) scale(1 1.1)" font-size="14.7">40</text>
<text transform="translate(891 151.4) scale(1 1.1)" font-size="14.7">36</text>
<text transform="translate(891 172.2) scale(1 1.1)" font-size="14.7">32</text>
<text transform="translate(891 192.9) scale(1 1.1)" font-size="14.7">28</text>
<text transform="translate(891 213.7) scale(1 1.1)" font-size="14.7">24</text>
<text transform="translate(891 234.4) scale(1 1.1)" font-size="14.7">20</text>
<text transform="translate(891 255.2) scale(1 1.1)" font-size="14.7">16</text>
<text transform="translate(891 275.9) scale(1 1.1)" font-size="14.7">12</text>
<text transform="translate(891 296.7) scale(1 1.1)" font-size="14.7">8</text>
<text transform="translate(891 317.4) scale(1 1.1)" font-size="14.7">4</text>
<text transform="translate(891 338.2) scale(1 1.1)" font-size="14.7">0</text>
<text transform="translate(891 358.9) scale(1 1.1)" font-size="14.7">-4</text>
<text transform="translate(891 379.7) scale(1 1.1)" font-size="14.7">-8</text>
<text transform="translate(891 400.4) scale(1 1.1)" font-size="14.7">-12</text>
<text transform="translate(891 421.2) scale(1 1.1)" font-size="14.7">-16</text>
<text transform="translate(891 441.9) scale(1 1.1)" font-size="14.7">-20</text>
<text transform="translate(891 462.7) scale(1 1.1)" font-size="14.7">-24</text>
<text transform="translate(891 483.4) scale(1 1.1)" font-size="14.7">-28</text>
<text transform="translate(891 504.2) scale(1 1.1)" font-size="14.7">-32</text>
<text transform="translate(891 524.9) scale(1 1.1)" font-size="14.7">-36</text>
<text transform="translate(891 545.7) scale(1 1.1)" font-size="14.7">-40</text>
<path d="M153.6 685.8H870.4M153.6 706.3H870.4M153.6 726.8H870.4M153.6 747.3H870.4M153.6 767.8H870.4" stroke="#9B78C8" stroke-width="1.3" stroke-dasharray="3.6 5.8" fill="none"/>
<path d="M193.4 665.3V767.8M233.2 665.3V767.8M273.1 665.3V767.8M312.9 665.3V767.8M352.7 665.3V767.8M392.5 665.3V767.8M432.4 665.3V767.8M472.2 665.3V767.8M512 665.3V767.8M551.8 665.3V767.8M591.6 665.3V767.8M631.5 665.3V767.8M671.3 665.3V767.8M711.1 665.3V767.8M750.9 665.3V767.8M790.8 665.3V767.8M830.6 665.3V767.8" stroke="#6A3A9E" stroke-width="1" stroke-dasharray="3.6 5.8" stroke-dashoffset="5.4" fill="none" opacity="0.8"/>
<rect x="153.6" y="665.3" width="716.8" height="102.5" fill="none" stroke="#4F0A87" stroke-width="1.3"/>
<path d="M139.6 767.8H153.6M139.6 747.3H153.6M139.6 726.8H153.6M139.6 706.3H153.6M139.6 685.8H153.6M139.6 665.3H153.6M153.6 767.8V782M193.4 767.8V782M233.2 767.8V782M273.1 767.8V782M312.9 767.8V782M352.7 767.8V782M392.5 767.8V782M432.4 767.8V782M472.2 767.8V782M512 767.8V782M551.8 767.8V782M591.6 767.8V782M631.5 767.8V782M671.3 767.8V782M711.1 767.8V782M750.9 767.8V782M790.8 767.8V782M830.6 767.8V782M870.4 767.8V782" stroke="#4F0A87" stroke-width="1.2" fill="none"/>
<path d="M146.6 761H153.6M146.6 754.1H153.6M146.6 740.5H153.6M146.6 733.6H153.6M146.6 720H153.6M146.6 713.1H153.6M146.6 699.5H153.6M146.6 692.6H153.6M146.6 679H153.6M146.6 672.1H153.6" stroke="#4F0A87" stroke-width="0.9" fill="none" opacity="0.85"/>
<text transform="translate(134.2 668.4) scale(0.82 1)" font-size="8.8" text-anchor="end">3</text>
<text transform="translate(134.2 688.9) scale(0.82 1)" font-size="8.8" text-anchor="end">0</text>
<text transform="translate(134.2 709.4) scale(0.82 1)" font-size="8.8" text-anchor="end">-3</text>
<text transform="translate(134.2 729.9) scale(0.82 1)" font-size="8.8" text-anchor="end">-6</text>
<text transform="translate(134.2 750.4) scale(0.82 1)" font-size="8.8" text-anchor="end">-9</text>
<text transform="translate(134.2 770.9) scale(0.82 1)" font-size="8.8" text-anchor="end">-12</text>
<text transform="translate(170.9 784.9) rotate(-45) scale(0.93 1.05)" font-size="12.3" text-anchor="end">07_00</text><text transform="translate(210.7 784.9) rotate(-45) scale(0.93 1.05)" font-size="12.3" text-anchor="end">07_12</text><text transform="translate(250.6 784.9) rotate(-45) scale(0.93 1.05)" font-size="12.3" text-anchor="end">08_00</text><text transform="translate(290.4 784.9) rotate(-45) scale(0.93 1.05)" font-size="12.3" text-anchor="end">08_12</text><text transform="translate(330.3 784.9) rotate(-45) scale(0.93 1.05)" font-size="12.3" text-anchor="end">09_00</text><text transform="translate(370.1 784.9) rotate(-45) scale(0.93 1.05)" font-size="12.3" text-anchor="end">09_12</text><text transform="translate(410 784.9) rotate(-45) scale(0.93 1.05)" font-size="12.3" text-anchor="end">10_00</text><text transform="translate(449.8 784.9) rotate(-45) scale(0.93 1.05)" font-size="12.3" text-anchor="end">10_12</text><text transform="translate(489.7 784.9) rotate(-45) scale(0.93 1.05)" font-size="12.3" text-anchor="end">11_00</text><text transform="translate(529.5 784.9) rotate(-45) scale(0.93 1.05)" font-size="12.3" text-anchor="end">11_12</text><text transform="translate(569.3 784.9) rotate(-45) scale(0.93 1.05)" font-size="12.3" text-anchor="end">12_00</text><text transform="translate(609.2 784.9) rotate(-45) scale(0.93 1.05)" font-size="12.3" text-anchor="end">12_12</text><text transform="translate(649 784.9) rotate(-45) scale(0.93 1.05)" font-size="12.3" text-anchor="end">13_00</text><text transform="translate(688.9 784.9) rotate(-45) scale(0.93 1.05)" font-size="12.3" text-anchor="end">13_12</text><text transform="translate(728.7 784.9) rotate(-45) scale(0.93 1.05)" font-size="12.3" text-anchor="end">14_00</text><text transform="translate(768.6 784.9) rotate(-45) scale(0.93 1.05)" font-size="12.3" text-anchor="end">14_12</text><text transform="translate(808.4 784.9) rotate(-45) scale(0.93 1.05)" font-size="12.3" text-anchor="end">15_00</text><text transform="translate(848.3 784.9) rotate(-45) scale(0.93 1.05)" font-size="12.3" text-anchor="end">15_12</text><text transform="translate(888.1 784.9) rotate(-45) scale(0.93 1.05)" font-size="12.3" text-anchor="end">16_00</text>
<text transform="translate(109 716.4) rotate(-90)" font-size="16.9" text-anchor="middle">XGBoost T2 (deg C)</text>
<polyline points="153.6,762.4 163.6,745.8 173.5,711.6 183.5,685.3 193.4,692.1 203.4,701.3 213.3,698.9 223.3,706.8 233.2,728.2 243.2,709.7 253.2,682 263.1,674.5 273.1,669.1 283,675.9 293,697 302.9,680.8 312.9,706.2 322.8,684.7 332.8,673.9 342.8,669.1 352.7,678 362.7,683.9 372.6,678.4 382.6,684.3 392.5,691.7 402.5,695.4 412.4,676.9 422.4,667.3 432.4,671 442.3,667.7 452.3,716.5 462.2,725.7 472.2,722 482.1,742.3 492.1,738.6 502,735.1 512,723.9 522,739 531.9,741.9 541.9,747.2 551.8,734.7 561.8,731.2 571.7,715.5 581.7,702.5 591.6,697.6 601.6,703 611.6,705.8 621.5,708.1 631.5,706.8 641.4,707.3 651.4,695 661.3,682.3 671.3,686.2 681.2,693.7 691.2,692.1 701.2,702.9 711.1,699.3 721.1,699.6 731,707.7 741,712.1 750.9,695.1 760.9,703.9 770.8,699.5 780.8,701.2 790.8,702.8 800.7,707.2 810.7,696 820.6,677.3 830.6,678.7 840.5,694 850.5,693.3 860.4,705.1 870.4,716.9" fill="none" stroke="#FF1A1A" stroke-width="1.2" stroke-linejoin="round"/>
<path d="M153.6 930.1H870.2M153.6 907.9H870.2M153.6 885.6H870.2M153.6 863.4H870.2M153.6 841.2H870.2M153.6 819H870.2" stroke="#9B78C8" stroke-width="1.3" stroke-dasharray="3.6 5.8" fill="none"/>
<path d="M193.4 819V952.3M233.2 819V952.3M273.1 819V952.3M312.9 819V952.3M352.7 819V952.3M392.5 819V952.3M432.4 819V952.3M472.2 819V952.3M512 819V952.3M551.8 819V952.3M591.6 819V952.3M631.5 819V952.3M671.3 819V952.3M711.1 819V952.3M750.9 819V952.3M790.8 819V952.3M830.6 819V952.3" stroke="#6A3A9E" stroke-width="1" stroke-dasharray="3.6 5.8" stroke-dashoffset="5.4" fill="none" opacity="0.8"/>
<rect x="448.3" y="842.3" width="8" height="110" fill="#00EE00" stroke="#222" stroke-width="0.8"/>
<rect x="458.2" y="894.1" width="8" height="58.2" fill="#00EE00" stroke="#222" stroke-width="0.8"/>
<rect x="478.1" y="888.8" width="8" height="63.5" fill="#00EE00" stroke="#222" stroke-width="0.8"/>
<rect x="607.6" y="925.6" width="8" height="26.7" fill="#00EE00" stroke="#222" stroke-width="0.8"/>
<rect x="717.1" y="826.1" width="8" height="126.2" fill="#00EE00" stroke="#222" stroke-width="0.8"/>
<rect x="727" y="898.5" width="8" height="53.8" fill="#00EE00" stroke="#222" stroke-width="0.8"/>
<rect x="776.8" y="910.1" width="8" height="42.2" fill="#00EE00" stroke="#222" stroke-width="0.8"/>
<rect x="153.6" y="819" width="716.6" height="133.3" fill="none" stroke="#4F0A87" stroke-width="1.3"/>
<path d="M139.6 952.3H153.6M139.6 930.1H153.6M139.6 907.9H153.6M139.6 885.6H153.6M139.6 863.4H153.6M139.6 841.2H153.6M139.6 819H153.6M153.6 952.3V966.3M193.4 952.3V966.3M233.2 952.3V966.3M273.1 952.3V966.3M312.9 952.3V966.3M352.7 952.3V966.3M392.5 952.3V966.3M432.4 952.3V966.3M472.2 952.3V966.3M512 952.3V966.3M551.8 952.3V966.3M591.6 952.3V966.3M631.5 952.3V966.3M671.3 952.3V966.3M711.1 952.3V966.3M750.9 952.3V966.3M790.8 952.3V966.3M830.6 952.3V966.3M870.4 952.3V966.3" stroke="#4F0A87" stroke-width="1.2" fill="none"/>
<path d="M146.6 947.9H153.6M146.6 943.4H153.6M146.6 939H153.6M146.6 934.5H153.6M146.6 925.6H153.6M146.6 921.2H153.6M146.6 916.8H153.6M146.6 912.3H153.6M146.6 903.4H153.6M146.6 899H153.6M146.6 894.5H153.6M146.6 890.1H153.6M146.6 881.2H153.6M146.6 876.8H153.6M146.6 872.3H153.6M146.6 867.9H153.6M146.6 859H153.6M146.6 854.5H153.6M146.6 850.1H153.6M146.6 845.7H153.6M146.6 836.8H153.6M146.6 832.3H153.6M146.6 827.9H153.6M146.6 823.4H153.6" stroke="#4F0A87" stroke-width="0.9" fill="none" opacity="0.85"/>
<text x="133.5" y="955.3" font-size="8.5" text-anchor="end">0.00</text>
<text x="133.5" y="933.1" font-size="8.5" text-anchor="end">0.10</text>
<text x="133.5" y="910.9" font-size="8.5" text-anchor="end">0.20</text>
<text x="133.5" y="888.6" font-size="8.5" text-anchor="end">0.30</text>
<text x="133.5" y="866.4" font-size="8.5" text-anchor="end">0.40</text>
<text x="133.5" y="844.2" font-size="8.5" text-anchor="end">0.50</text>
<text x="133.5" y="822" font-size="8.5" text-anchor="end">0.60</text>
<text transform="translate(170.9 969.4) rotate(-45) scale(0.93 1.05)" font-size="12.3" text-anchor="end">07_00</text><text transform="translate(210.7 969.4) rotate(-45) scale(0.93 1.05)" font-size="12.3" text-anchor="end">07_12</text><text transform="translate(250.6 969.4) rotate(-45) scale(0.93 1.05)" font-size="12.3" text-anchor="end">08_00</text><text transform="translate(290.4 969.4) rotate(-45) scale(0.93 1.05)" font-size="12.3" text-anchor="end">08_12</text><text transform="translate(330.3 969.4) rotate(-45) scale(0.93 1.05)" font-size="12.3" text-anchor="end">09_00</text><text transform="translate(370.1 969.4) rotate(-45) scale(0.93 1.05)" font-size="12.3" text-anchor="end">09_12</text><text transform="translate(410 969.4) rotate(-45) scale(0.93 1.05)" font-size="12.3" text-anchor="end">10_00</text><text transform="translate(449.8 969.4) rotate(-45) scale(0.93 1.05)" font-size="12.3" text-anchor="end">10_12</text><text transform="translate(489.7 969.4) rotate(-45) scale(0.93 1.05)" font-size="12.3" text-anchor="end">11_00</text><text transform="translate(529.5 969.4) rotate(-45) scale(0.93 1.05)" font-size="12.3" text-anchor="end">11_12</text><text transform="translate(569.3 969.4) rotate(-45) scale(0.93 1.05)" font-size="12.3" text-anchor="end">12_00</text><text transform="translate(609.2 969.4) rotate(-45) scale(0.93 1.05)" font-size="12.3" text-anchor="end">12_12</text><text transform="translate(649 969.4) rotate(-45) scale(0.93 1.05)" font-size="12.3" text-anchor="end">13_00</text><text transform="translate(688.9 969.4) rotate(-45) scale(0.93 1.05)" font-size="12.3" text-anchor="end">13_12</text><text transform="translate(728.7 969.4) rotate(-45) scale(0.93 1.05)" font-size="12.3" text-anchor="end">14_00</text><text transform="translate(768.6 969.4) rotate(-45) scale(0.93 1.05)" font-size="12.3" text-anchor="end">14_12</text><text transform="translate(808.4 969.4) rotate(-45) scale(0.93 1.05)" font-size="12.3" text-anchor="end">15_00</text><text transform="translate(848.3 969.4) rotate(-45) scale(0.93 1.05)" font-size="12.3" text-anchor="end">15_12</text><text transform="translate(888.1 969.4) rotate(-45) scale(0.93 1.05)" font-size="12.3" text-anchor="end">16_00</text>
<text transform="translate(102.8 885.4) rotate(-90)" font-size="17.3" text-anchor="middle">PRECIP, mm</text>
</svg></body></html>
